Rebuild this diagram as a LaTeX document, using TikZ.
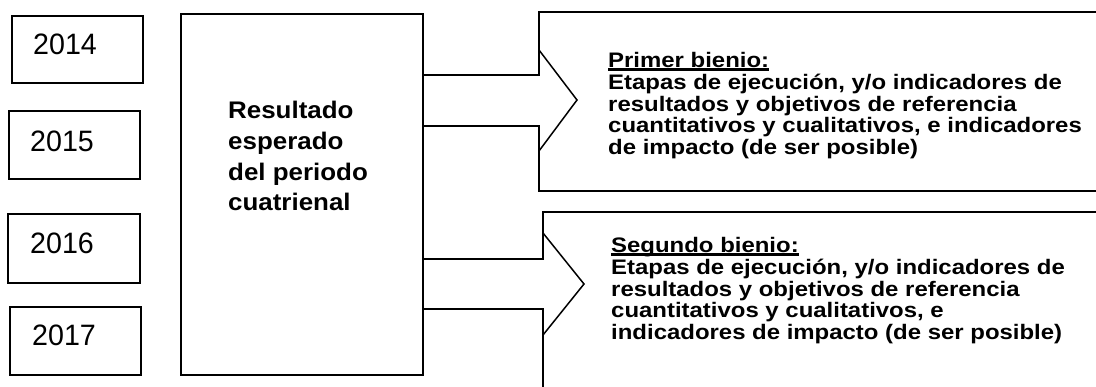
\documentclass[tikz,border=0pt]{standalone}
\usepackage{fontspec}
\setmainfont{Liberation Sans}
\newfontfamily\rightfont{Liberation Sans Bold}[FakeStretch=1.14]
\newfontfamily\mainfont{Liberation Sans Bold}[FakeStretch=1.08]
\newfontfamily\yearfont{Liberation Sans}[FakeStretch=0.97]
\newcommand\myul[1]{\setbox0\hbox{#1}\rlap{\rule[-4pt]{\wd0}{3pt}}\box0}
\begin{document}
\begin{tikzpicture}[x=1pt,y=-1pt,
  box/.style={draw, line width=1.5pt, inner sep=0pt, outer sep=0pt},
  outline/.style={draw, line width=1.5pt, line join=miter},
  yeartxt/.style={font=\yearfont\fontsize{29.5}{34}\selectfont, anchor=base west, inner sep=0pt},
  bodytxt/.style={font=\rightfont\fontsize{21}{21.9}\selectfont, align=left, anchor=north west, inner sep=0pt},
  maintxt/.style={font=\mainfont\fontsize{24}{30.7}\selectfont, align=left, anchor=north west, inner sep=0pt}]
\useasboundingbox (0,0) rectangle (1096,387);
\clip (0,0) rectangle (1096,387);

% year boxes
\node[box, minimum width=131pt, minimum height=67pt] (b2014) at (77.5,49.5) {};
\node[box, minimum width=131pt, minimum height=68pt] (b2015) at (74.5,145) {};
\node[box, minimum width=132pt, minimum height=69pt] (b2016) at (74,248.5) {};
\node[box, minimum width=131pt, minimum height=68pt] (b2017) at (75.5,341) {};
\node[yeartxt] (t2014) at (33,55) {2014};
\node[yeartxt] (t2015) at (30,152) {2015};
\node[yeartxt] (t2016) at (30,254) {2016};
\node[yeartxt] (t2017) at (32,346) {2017};

% main box
\node[box, minimum width=242pt, minimum height=361pt] (big) at (302,194.5) {};
\node[maintxt] (bigtxt) at (228,101.3) {Resultado\\esperado\\del periodo\\cuatrienal};

% first arrow + box
\coordinate (a1t) at (539,75);
\coordinate (a1b) at (539,126);
\coordinate (h1t) at (539,50);
\coordinate (h1p) at (577,100);
\coordinate (h1b) at (539,151);
\coordinate (r1t) at (1110,12);
\coordinate (r1b) at (1110,191);
\draw[outline] (r1t) -| (a1t) -- (big.east |- a1t);
\draw[outline] (big.east |- a1b) -- (a1b) |- (r1b);
\draw[outline] (h1t) -- (h1p) -- (h1b);
\node[bodytxt] (txt1) at (608,51.8) {\myul{Primer bienio:}\\Etapas de ejecución, y/o indicadores de\\resultados y objetivos de referencia\\cuantitativos y cualitativos, e indicadores\\de impacto (de ser posible)};

% second arrow + box
\coordinate (a2t) at (543,259);
\coordinate (a2b) at (543,309);
\coordinate (h2t) at (543,233);
\coordinate (h2p) at (584,284);
\coordinate (h2b) at (543,335);
\coordinate (r2t) at (1110,212);
\coordinate (r2b) at (543,400);
\draw[outline] (r2t) -| (a2t) -- (big.east |- a2t);
\draw[outline] (big.east |- a2b) -- (a2b) -- (r2b);
\draw[outline] (h2t) -- (h2p) -- (h2b);
\node[bodytxt] (txt2) at (611,236.8) {\myul{Segundo bienio:}\\Etapas de ejecución, y/o indicadores de\\resultados y objetivos de referencia\\cuantitativos y cualitativos, e\\indicadores de impacto (de ser posible)};
\end{tikzpicture}
\end{document}
